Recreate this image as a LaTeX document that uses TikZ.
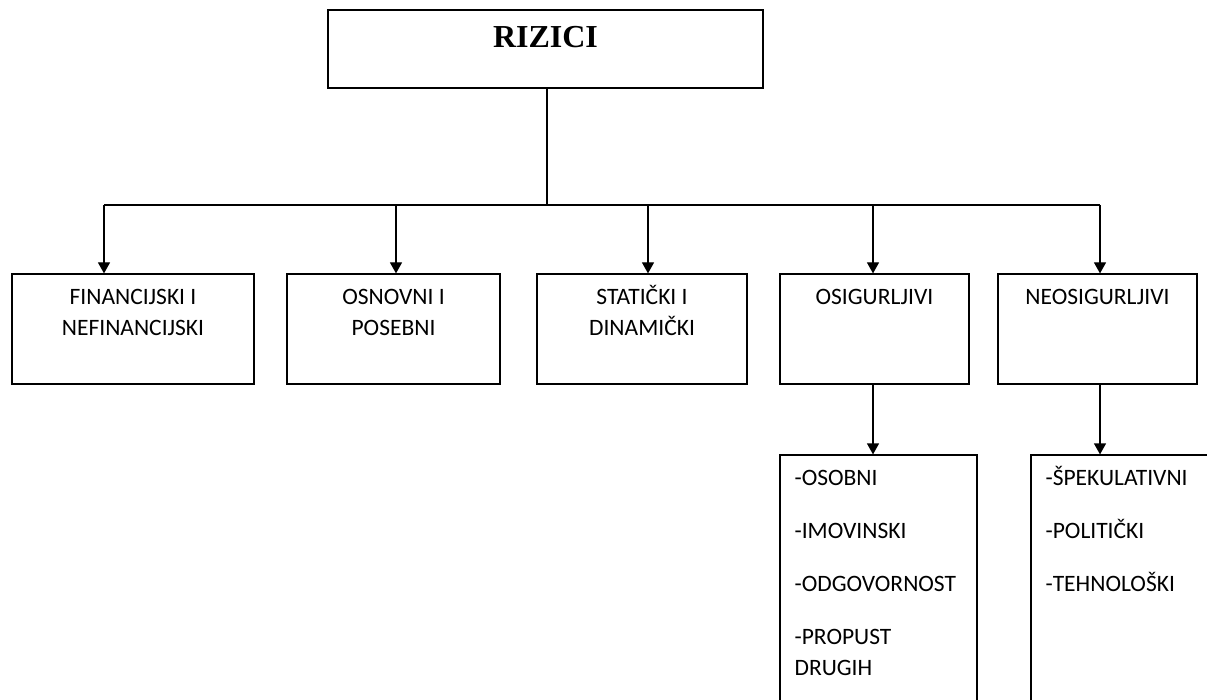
\documentclass[tikz,border=0pt]{standalone}
\usepackage{fontspec}
\setmainfont{Carlito}
\newfontfamily\titlefont{Liberation Serif}
\usetikzlibrary{positioning,arrows.meta}

\tikzset{
    riskbox/.style={draw, line width=1.2pt, inner sep=0pt, minimum height=110pt},
    boxtext/.style={inner sep=0pt, align=center, font=\fontsize{23.5}{31}\selectfont},
    listtext/.style={inner sep=0pt, align=left, font=\fontsize{23.5}{31}\selectfont},
    arrow/.style={line width=1.2pt, -{Triangle[width=12pt,length=11pt]}}
}

\begin{document}
\begin{tikzpicture}[x=1pt, y=-1pt]
        \useasboundingbox (0, 0) rectangle (1207, 700);
        \clip (0, 0) rectangle (1207, 700);

        \node[riskbox, minimum width=435pt, minimum height=78pt] (rizici) at (545.5, 49) {};
        \node[inner sep=0pt, anchor=base, font=\titlefont\bfseries\fontsize{32}{36}\selectfont] (rizicitxt) at (545.5, 48) {RIZICI};

        \node[riskbox, minimum width=242pt] (fin) at (133, 329) {};
        \node[riskbox, minimum width=213pt] (osn) at (393.5, 329) {};
        \node[riskbox, minimum width=210pt] (sta) at (642, 329) {};
        \node[riskbox, minimum width=189pt] (osi) at (874.5, 329) {};
        \node[riskbox, minimum width=199pt] (neo) at (1097.5, 329) {};
        \node[riskbox, minimum width=197pt, minimum height=300pt] (osilist) at (878.5, 605) {};
        \node[riskbox, minimum width=209pt, minimum height=300pt] (neolist) at (1135.5, 605) {};

        \node[boxtext, below=9.3pt of fin.north] (fintxt) {\strut FINANCIJSKI I\\NEFINANCIJSKI};
        \node[boxtext, below=9.3pt of osn.north] (osntxt) {\strut OSNOVNI I\\POSEBNI};
        \node[boxtext, below=9.3pt of sta.north] (statxt) {\strut STATIČKI I\\DINAMIČKI};
        \node[boxtext, below=9.3pt of osi.north] (ositxt) {\strut OSIGURLJIVI};
        \node[boxtext, below=9.3pt of neo.north] (neotxt) {\strut NEOSIGURLJIVI};
        \node[listtext, below right=9.3pt and 15pt of osilist.north west] (osilisttxt)
            {\strut -OSOBNI\\[22pt]-IMOVINSKI\\[22pt]-ODGOVORNOST\\[22pt]-PROPUST\\DRUGIH};
        \node[listtext, below right=9.3pt and 15pt of neolist.north west] (neolisttxt)
            {\strut -ŠPEKULATIVNI\\[22pt]-POLITIČKI\\[22pt]-TEHNOLOŠKI};

        \coordinate (hub) at (547, 205);
        \coordinate (finin) at (104, 205);
        \coordinate (osnin) at (396, 205);
        \coordinate (stain) at (648, 205);
        \coordinate (osiin) at (873, 205);
        \coordinate (neoin) at (1100, 205);

        \draw[line width=1.2pt] (rizici.south -| hub) -- (hub);
        \draw[line width=1.2pt] (finin) -- (neoin);
        \draw[arrow] (finin) -- (finin |- fin.north);
        \draw[arrow] (osnin) -- (osnin |- osn.north);
        \draw[arrow] (stain) -- (stain |- sta.north);
        \draw[arrow] (osiin) -- (osiin |- osi.north);
        \draw[arrow] (neoin) -- (neoin |- neo.north);
        \draw[arrow] (osiin |- osi.south) -- (osiin |- osilist.north);
        \draw[arrow] (neoin |- neo.south) -- (neoin |- neolist.north);

    \end{tikzpicture}
\end{document}
